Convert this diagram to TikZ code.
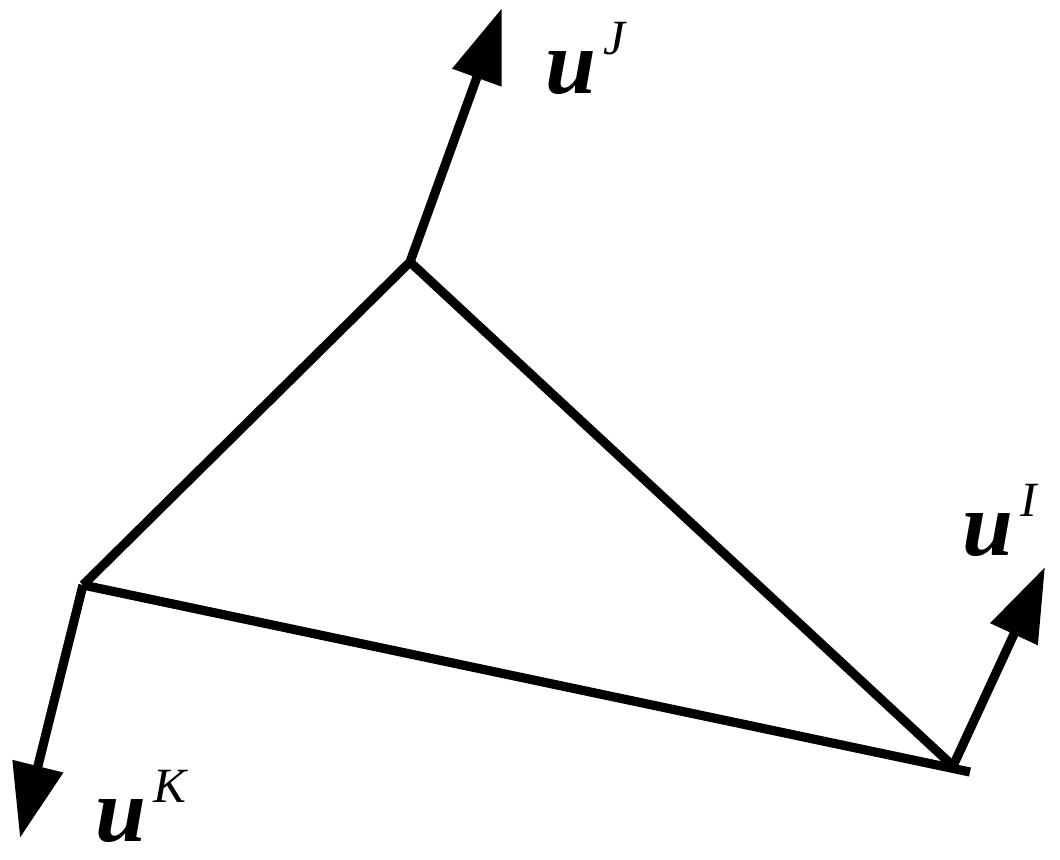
\documentclass[tikz,border=0pt]{standalone}
\usepackage{fontspec}
\setmainfont{Liberation Serif}
\usetikzlibrary{arrows.meta}
\newcommand{\uvec}[1]{{\fontsize{26}{26}\selectfont\bfseries\itshape u}\kern2pt\raisebox{11pt}{\fontsize{14}{14}\selectfont\itshape #1}}
\begin{document}
\begin{tikzpicture}[x=0.01cm,y=-0.01cm,line width=2.6pt,>={Triangle[length=7.4mm,width=5mm]}]
        \useasboundingbox(0,0)rectangle(1060,859);
        \coordinate(J)at(410,262);\coordinate(K)at(83,585);\coordinate(I)at(953,766);\coordinate(E)at(970,772);
        \coordinate(tJ)at(502,8);\coordinate(tK)at(20,838);\coordinate(tI)at(1045,567);
        \draw[line join=miter](K)--(J)--(I);\draw(K)--(E);
        \draw[->](J)--(tJ);\draw[->](K)--(tK);\draw[->](I)--(tI);
        \node[anchor=base west,inner sep=0pt](lJ)at(541,93){\uvec{J}};
        \node[anchor=base west,inner sep=0pt](lI)at(958,555){\uvec{I}};
        \node[anchor=base west,inner sep=0pt](lK)at(91,841){\uvec{K}};
    \end{tikzpicture}
\end{document}
